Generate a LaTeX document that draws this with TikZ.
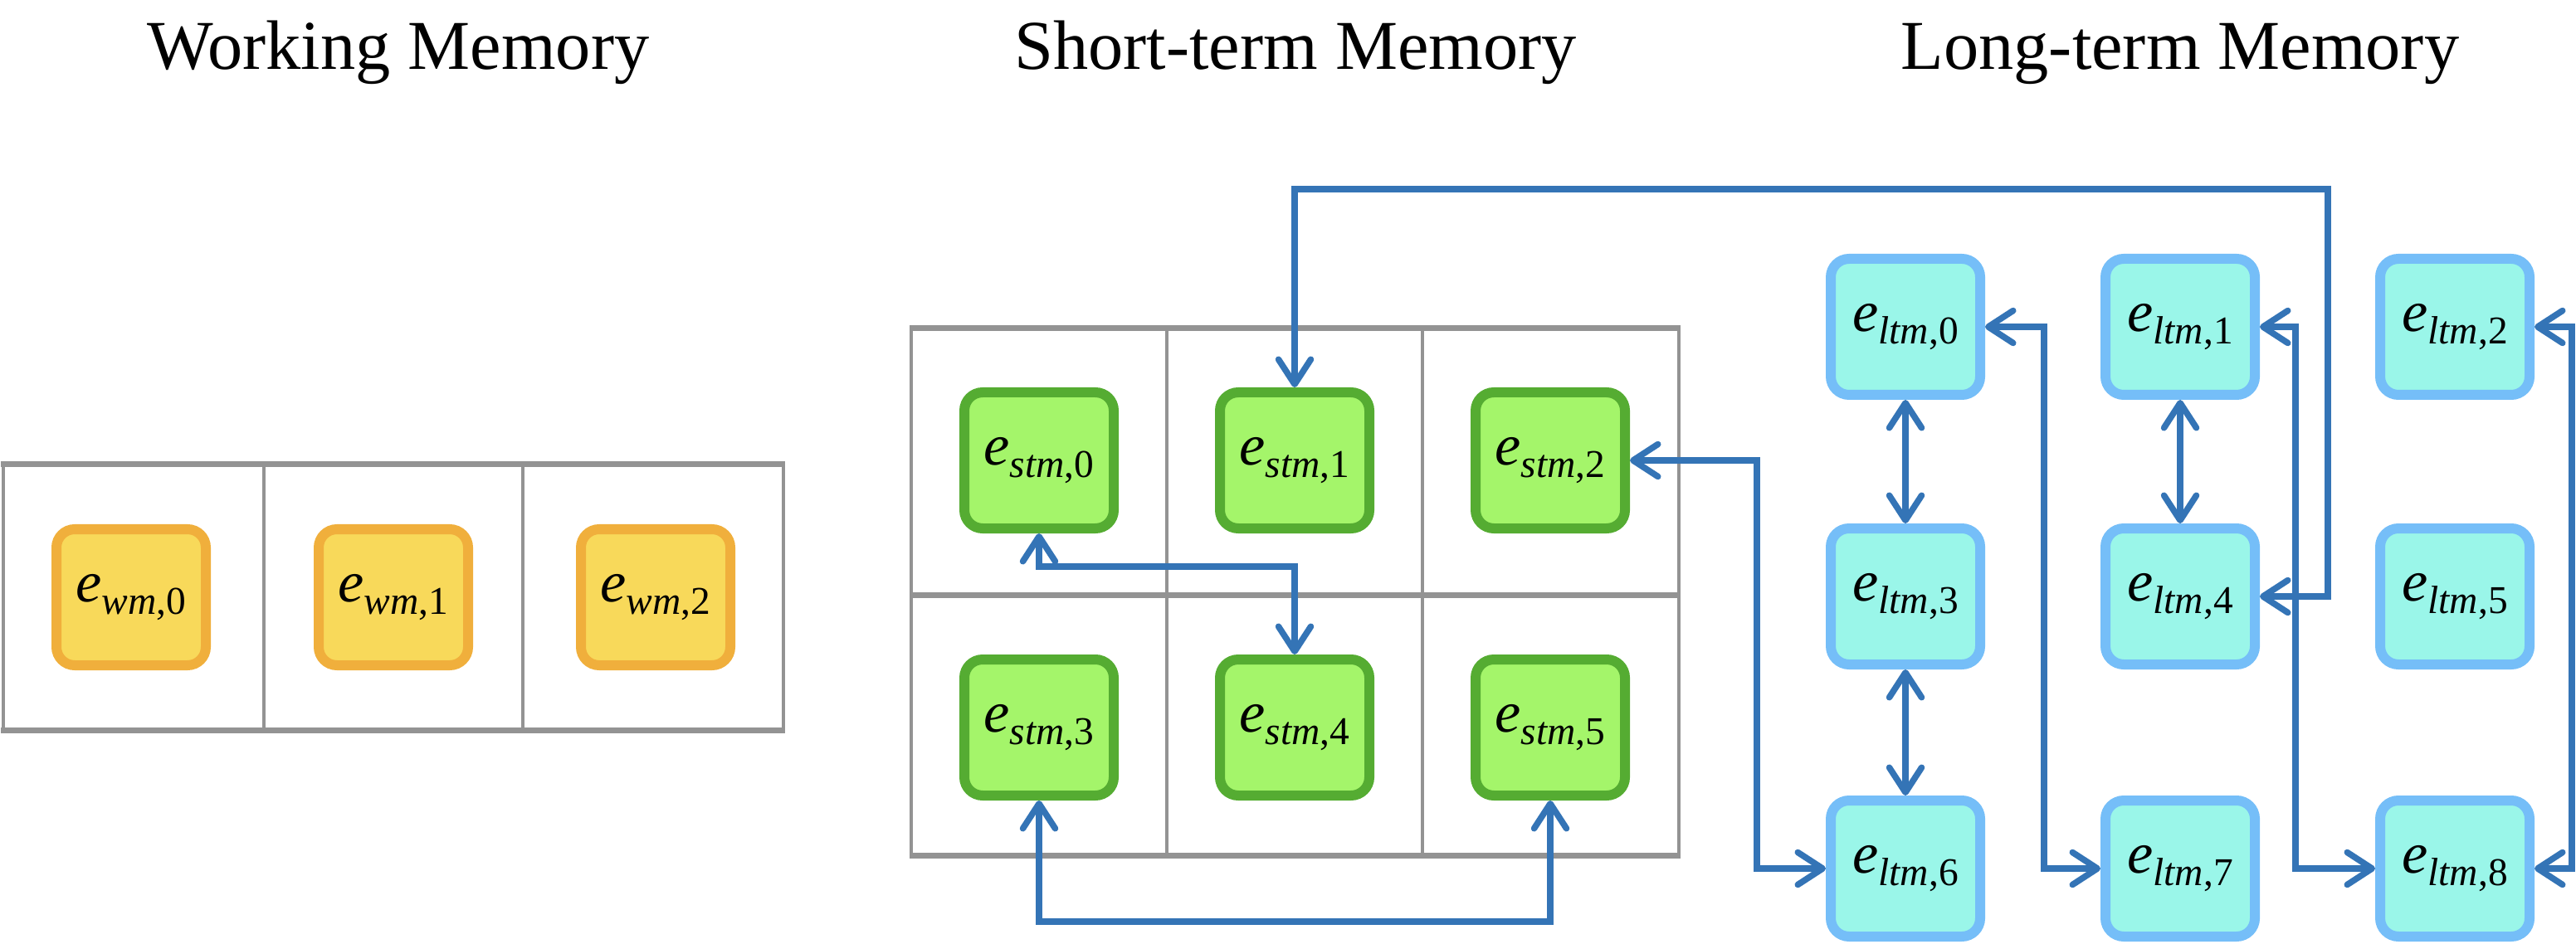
\documentclass[tikz,border=0pt]{standalone}
\usepackage{fontspec}
\setmainfont{Liberation Serif}
\usetikzlibrary{arrows.meta,positioning}

\definecolor{wmfill}{HTML}{F8D95A}
\definecolor{wmline}{HTML}{F0AF3C}
\definecolor{stmfill}{HTML}{A4F56A}
\definecolor{stmline}{HTML}{55AC32}
\definecolor{ltmfill}{HTML}{9AF6E9}
\definecolor{ltmline}{HTML}{75BEF8}
\definecolor{linkblue}{HTML}{3474B6}
\definecolor{gridgray}{HTML}{939393}

\newcommand{\ent}[2]{\textit{e}\raisebox{-4.5pt}{\fontsize{13.5}{14}\selectfont\textit{#1},#2}}

\tikzset{
  entry/.style={rectangle, rounded corners=2.2mm, line width=1.2mm,
    minimum width=18mm, minimum height=16.4mm, inner sep=0pt,
    font=\fontsize{20}{24}\selectfont},
  wmbox/.style={entry, draw=wmline, fill=wmfill},
  stmbox/.style={entry, draw=stmline, fill=stmfill},
  ltmbox/.style={entry, draw=ltmline, fill=ltmfill},
  hline/.style={draw=gridgray, line width=0.7mm},
  vline/.style={draw=gridgray, line width=0.4mm},
  link/.style={draw=linkblue, line width=0.75mm,
    {Straight Barb[length=3mm,width=3.9mm,round]}-{Straight Barb[length=3mm,width=3.9mm,round]}},
  heading/.style={font=\fontsize{24}{28}\selectfont, anchor=base}
}

\begin{document}
\begin{tikzpicture}

    \useasboundingbox (0,0) rectangle (31.04,-11.38);

    % headings
    \node[heading] (wmtitle) at (4.80,-0.84) {Working Memory};
    \node[heading] (stmtitle) at (15.61,-0.84) {Short-term Memory};
    \node[heading] (ltmtitle) at (26.27,-0.84) {Long-term Memory};

    % working memory cells
    \draw[hline] (0.01,-5.60) -- (9.46,-5.60);
    \draw[hline] (0.01,-8.80) -- (9.46,-8.80);
    \foreach \x in {0.035,3.18,6.30,9.44}
      \draw[vline] (\x,-5.60) -- (\x,-8.80);

    % short-term memory cells
    \foreach \y in {-3.96,-7.17,-10.31}
      \draw[hline] (10.96,\y) -- (20.25,\y);
    \foreach \x in {10.98,14.06,17.14,20.23}
      \draw[vline] (\x,-3.96) -- (\x,-10.31);

    \node[wmbox] (wm0) at (1.58,-7.20) {\ent{wm}{0}};
    \node[wmbox, right=12.4mm of wm0] (wm1) {\ent{wm}{1}};
    \node[wmbox, right=12.4mm of wm1] (wm2) {\ent{wm}{2}};

    \node[stmbox] (stm0) at (12.52,-5.55) {\ent{stm}{0}};
    \node[stmbox, right=11.6mm of stm0] (stm1) {\ent{stm}{1}};
    \node[stmbox, right=11.6mm of stm1] (stm2) {\ent{stm}{2}};
    \node[stmbox, below=14.6mm of stm0] (stm3) {\ent{stm}{3}};
    \node[stmbox, right=11.6mm of stm3] (stm4) {\ent{stm}{4}};
    \node[stmbox, right=11.6mm of stm4] (stm5) {\ent{stm}{5}};

    \node[ltmbox] (ltm0) at (22.96,-3.94) {\ent{ltm}{0}};
    \node[ltmbox, right=13.9mm of ltm0] (ltm1) {\ent{ltm}{1}};
    \node[ltmbox, right=13.9mm of ltm1] (ltm2) {\ent{ltm}{2}};
    \node[ltmbox, below=14.9mm of ltm0] (ltm3) {\ent{ltm}{3}};
    \node[ltmbox, right=13.9mm of ltm3] (ltm4) {\ent{ltm}{4}};
    \node[ltmbox, right=13.9mm of ltm4] (ltm5) {\ent{ltm}{5}};
    \node[ltmbox, below=15.2mm of ltm3] (ltm6) {\ent{ltm}{6}};
    \node[ltmbox, right=13.9mm of ltm6] (ltm7) {\ent{ltm}{7}};
    \node[ltmbox, right=13.9mm of ltm7] (ltm8) {\ent{ltm}{8}};

    % links
    \draw[link] (stm0.south) -- ++(0,-0.4) -| (stm4.north);
    \draw[link] (stm3.south) -- ++(0,-1.46) -| (stm5.south);
    \draw[link] (stm1.north) -- ++(0,2.39) -| ([xshift=8.2mm]ltm4.east) -- (ltm4.east);
    \draw[link] (stm2.east) -- ++(1.53,0) |- (ltm6.west);

    \draw[link] (ltm0) -- (ltm3);
    \draw[link] (ltm3) -- (ltm6);
    \draw[link] (ltm1) -- (ltm4);

    \draw[link] (ltm0.east) -- ++(0.71,0) |- (ltm7.west);
    \draw[link] (ltm1.east) -- ++(0.43,0) |- (ltm8.west);
    \draw[link] (ltm2.east) -- ++(0.45,0) |- (ltm8.east);

\end{tikzpicture}
\end{document}
